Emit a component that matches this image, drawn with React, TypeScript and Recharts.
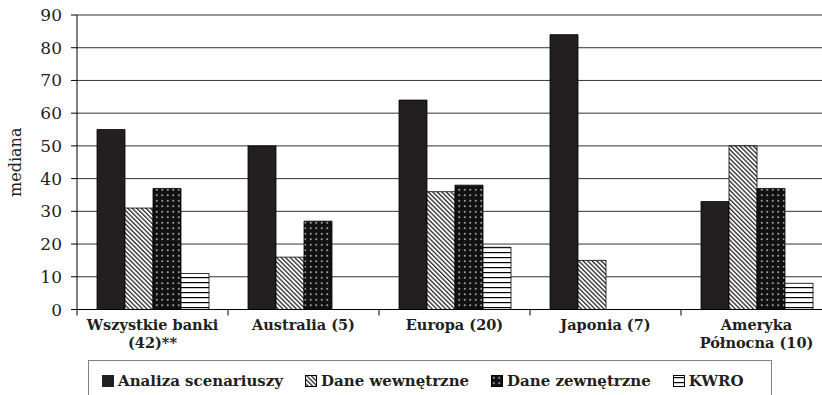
import { BarChart, Bar, XAxis, YAxis, CartesianGrid } from "recharts";

const FONT = "'DejaVu Serif', serif";
const INK = "#231f20";

const categories = [
  "Wszystkie banki (42)**",
  "Australia (5)",
  "Europa (20)",
  "Japonia (7)",
  "Ameryka Północna (10)",
];
const categoryLines = [
  ["Wszystkie banki", "(42)**"],
  ["Australia (5)"],
  ["Europa (20)"],
  ["Japonia (7)"],
  ["Ameryka", "Północna (10)"],
];

const analizaScenariuszy = [55, 50, 64, 84, 33];
const daneWewnetrzne = [31, 16, 36, 15, 50];
const daneZewnetrzne = [37, 27, 38, 0, 37];
const kwro = [11, 0, 19, 0, 8];

const yTicks = [0, 10, 20, 30, 40, 50, 60, 70, 80, 90];

const series = [
  { key: "analiza", name: "Analiza scenariuszy", fill: INK, values: analizaScenariuszy },
  { key: "wewn", name: "Dane wewnętrzne", fill: "url(#hatch)", values: daneWewnetrzne },
  { key: "zewn", name: "Dane zewnętrzne", fill: "url(#dots)", values: daneZewnetrzne },
  { key: "kwro", name: "KWRO", fill: "url(#hlines)", values: kwro },
];

const data = categories.map((name, i) => {
  const row: any = { name };
  series.forEach((s) => (row[s.key] = s.values[i]));
  return row;
});

function CategoryTick(props: any) {
  const { x, y, payload, index } = props;
  const half = payload?.offset ? payload.offset : props.width / categories.length / 2;
  const lines = categoryLines[index] ?? [payload.value];
  return (
    <g>
      <line x1={x + half} x2={x + half} y1={y} y2={y + 6} stroke="#000" />
      {index === 0 && <line x1={x - half} x2={x - half} y1={y} y2={y + 6} stroke="#000" />}
      <text x={x} y={y + 20.5} textAnchor="middle" fontFamily={FONT} fontWeight="bold" fontSize={14.5} fill={INK}>
        {lines.map((l: string, k: number) => (
          <tspan key={k} x={x} dy={k === 0 ? 0 : 18}>
            {l}
          </tspan>
        ))}
      </text>
    </g>
  );
}

function AxisTitle(props: any) {
  const vb = props.viewBox || {};
  const cy = (vb.y ?? 15) + (vb.height ?? 294) / 2;
  return (
    <text
      x={15}
      y={cy}
      transform={`rotate(-90, 15, ${cy})`}
      textAnchor="middle"
      dominantBaseline="central"
      fontFamily={FONT}
      fontSize={16}
      fill={INK}
    >
      mediana
    </text>
  );
}

function LegendIcon({ fill, border }: { fill: string; border: boolean }) {
  return (
    <svg width={12} height={12} style={{ display: "block", marginRight: 4 }}>
      <rect
        x={border ? 0.5 : 0}
        y={border ? 0.5 : 0}
        width={border ? 11 : 12}
        height={border ? 11 : 12}
        fill={fill}
        stroke={border ? "#000" : "none"}
      />
    </svg>
  );
}

export default function App() {
  return (
    <div
      style={{
        position: "fixed",
        left: 0,
        top: 0,
        width: 822,
        height: 395,
        overflow: "hidden",
        background: "#fff",
      }}
    >
      <BarChart
        width={840}
        height={395}
        data={data}
        margin={{ top: 15, right: 8, bottom: 35.5, left: 0 }}
        barCategoryGap={20}
        barGap={0}
      >
        <defs>
          <pattern id="hatch" patternUnits="userSpaceOnUse" width="3.2" height="3.2" patternTransform="rotate(-45)">
            <rect width="3.2" height="3.2" fill="#fff" />
            <rect width="1.3" height="3.2" fill="#2a2a2a" />
          </pattern>
          <pattern id="dots" patternUnits="userSpaceOnUse" width="5.5" height="5.5">
            <rect width="5.5" height="5.5" fill="#111" />
            <circle cx="2.75" cy="2.75" r="0.9" fill="#ccc" />
          </pattern>
          <pattern id="hlines" patternUnits="userSpaceOnUse" width="6" height="5">
            <rect width="6" height="5" fill="#fff" />
            <rect y="2" width="6" height="1.2" fill="#000" />
          </pattern>
        </defs>
        <CartesianGrid vertical={false} stroke="#333" />
        <XAxis
          dataKey="name"
          height={50}
          interval={0}
          tickLine={false}
          tickSize={0}
          tickMargin={0}
          tick={<CategoryTick />}
          axisLine={{ stroke: "#000" }}
        />
        <YAxis
          width={77}
          domain={[0, 90]}
          ticks={yTicks}
          interval={0}
          tickSize={6}
          tickMargin={9}
          tick={{ fill: INK, fontSize: 17, fontFamily: FONT }}
          axisLine={{ stroke: "#000" }}
          tickLine={{ stroke: "#000" }}
          label={{ content: <AxisTitle /> } as any}
        />
        {series.map((s) => (
          <Bar
            key={s.key}
            dataKey={s.key}
            name={s.name}
            fill={s.fill}
            stroke="#000"
            strokeWidth={0.8}
            isAnimationActive={false}
          />
        ))}
      </BarChart>
      <div
        style={{
          position: "absolute",
          left: 88,
          top: 360,
          width: 684,
          height: 50,
          boxSizing: "border-box",
          border: "1px solid #808080",
          paddingTop: 11,
          paddingLeft: 13,
          display: "flex",
          alignItems: "flex-start",
          fontFamily: FONT,
          fontWeight: "bold",
          fontSize: 15,
          lineHeight: "18px",
          color: INK,
        }}
      >
        {series.map((s, i) => (
          <div
            key={s.key}
            style={{ display: "flex", alignItems: "center", marginRight: i < series.length - 1 ? 22 : 0 }}
          >
            <LegendIcon fill={s.fill} border={i > 0} />
            <span>{s.name}</span>
          </div>
        ))}
      </div>
    </div>
  );
}
